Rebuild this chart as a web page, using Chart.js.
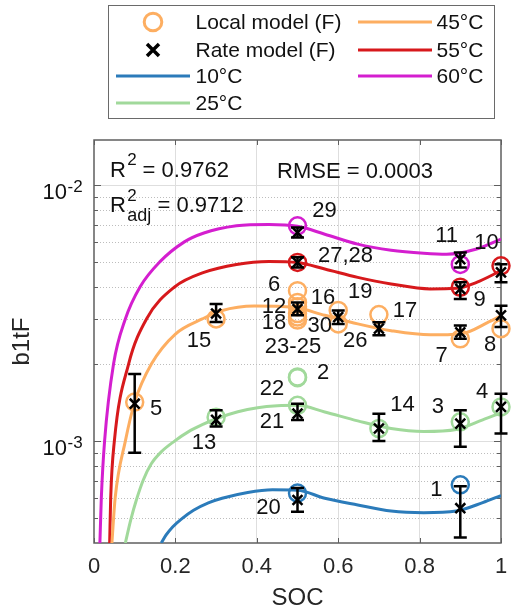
<!DOCTYPE html>
<html>
<head>
<meta charset="utf-8">
<script src="https://cdn.jsdelivr.net/npm/chart.js@4.4.1/dist/chart.umd.min.js"></script>
<style>
  html, body { margin: 0; padding: 0; background: #fff; }
  canvas { display: block; }
</style>
</head>
<body>
<canvas id="chart-b1tf" width="512" height="616"></canvas>
<script>

// DATA

const xTicks = [0, 0.2, 0.4, 0.6, 0.8, 1];
const xTickLabels = [`0`, `0.2`, `0.4`, `0.6`, `0.8`, `1`];
const yMajorTicks = [1e-3, 1e-2];
const yTickExponents = [`-3`, `-2`];
const yMinorTicks = [5e-4, 6e-4, 7e-4, 8e-4, 9e-4, 2e-3, 3e-3, 4e-3, 5e-3, 6e-3, 7e-3, 8e-3, 9e-3];

const temps = [`10°C`, `25°C`, `45°C`, `55°C`, `60°C`];

// fitted model curves
const fit10Soc = [0.1654, 0.1768, 0.1937, 0.2138, 0.2446, 0.2809, 0.3148, 0.3777, 0.4383, 0.5, 0.567, 0.648, 0.73, 0.81, 0.89, 0.955, 1.0];
const fit10Val = [4.0e-4, 4.29e-4, 4.63e-4, 4.95e-4, 5.37e-4, 5.74e-4, 5.98e-4, 6.30e-4, 6.45e-4, 6.43e-4, 5.98e-4, 5.63e-4, 5.33e-4, 5.25e-4, 5.33e-4, 5.75e-4, 6.13e-4];

const fit25Soc = [0.077, 0.0903, 0.1041, 0.1211, 0.1404, 0.1646, 0.1978, 0.2324, 0.2688, 0.3002, 0.3535, 0.402, 0.4504, 0.5, 0.567, 0.648, 0.73, 0.81, 0.89, 0.955, 1.0];
const fit25Val = [4.0e-4, 4.93e-4, 5.89e-4, 7.05e-4, 8.14e-4, 9.06e-4, 1.0e-3, 1.089e-3, 1.164e-3, 1.223e-3, 1.302e-3, 1.35e-3, 1.374e-3, 1.38e-3, 1.3e-3, 1.2e-3, 1.12e-3, 1.09e-3, 1.11e-3, 1.21e-3, 1.29e-3];

const fit45Soc = [0.044, 0.052, 0.077, 0.1, 0.141, 0.2, 0.266, 0.313, 0.394, 0.49, 0.567, 0.648, 0.73, 0.826, 0.9, 0.97, 1.0];
const fit45Val = [4.0e-4, 6.0e-4, 1.0e-3, 1.42e-3, 2.0e-3, 2.62e-3, 3.0e-3, 3.23e-3, 3.37e-3, 3.33e-3, 3.1e-3, 2.87e-3, 2.7e-3, 2.6e-3, 2.62e-3, 2.92e-3, 3.09e-3];

const fit55Soc = [0.0385, 0.041, 0.05, 0.085, 0.129, 0.198, 0.27, 0.35, 0.43, 0.5, 0.567, 0.648, 0.73, 0.826, 0.89, 0.94, 1.0];
const fit55Val = [4.0e-4, 6.0e-4, 1.0e-3, 2.0e-3, 3.0e-3, 4.0e-3, 4.56e-3, 4.9e-3, 5.03e-3, 4.98e-3, 4.7e-3, 4.36e-3, 4.11e-3, 3.93e-3, 3.95e-3, 4.17e-3, 4.63e-3];

const fit60Soc = [0.0145, 0.018, 0.026, 0.048, 0.077, 0.113, 0.161, 0.222, 0.27, 0.35, 0.43, 0.5, 0.567, 0.648, 0.73, 0.81, 0.866, 0.94, 1.0];
const fit60Val = [4.0e-4, 6.0e-4, 1.0e-3, 2.0e-3, 3.0e-3, 4.0e-3, 5.0e-3, 6.0e-3, 6.5e-3, 6.93e-3, 7.02e-3, 6.9e-3, 6.43e-3, 5.88e-3, 5.57e-3, 5.42e-3, 5.37e-3, 5.63e-3, 6.15e-3];

// local model estimates (circles) with their test numbers
const local10Soc = [0.5, 0.9];
const local10Val = [6.27e-4, 6.75e-4];
const local10Id = [`20`, `1`];

const local25Soc = [0.3, 0.5, 0.5, 0.5, 0.7, 0.9, 1.0];
const local25Val = [1.24e-3, 1.78e-3, 1.77e-3, 1.38e-3, 1.12e-3, 1.19e-3, 1.36e-3];
const local25Id = [`13`, `2`, `22`, `21`, `14`, `3`, `4`];

const local45Soc = [0.1, 0.3, 0.5, 0.5, 0.5, 0.5, 0.5, 0.5, 0.6, 0.6, 0.7, 0.9, 1.0];
const local45Val = [1.42e-3, 3.0e-3, 3.87e-3, 3.48e-3, 3.35e-3, 3.15e-3, 3.05e-3, 2.97e-3, 3.24e-3, 2.87e-3, 3.12e-3, 2.51e-3, 2.75e-3];
const local45Id = [`5`, `15`, `6`, `12`, `16`, `18`, `30`, `23-25`, `19`, `26`, `17`, `7`, `8`];

const local55Soc = [0.5, 0.9, 1.0];
const local55Val = [4.99e-3, 3.99e-3, 4.84e-3];
const local55Id = [`27,28`, `9`, `10`];

const local60Soc = [0.5, 0.9];
const local60Val = [6.93e-3, 4.9e-3];
const local60Id = [`29`, `11`];

// rate model estimates (crosses) with confidence bounds
const rateSoc = [0.5, 0.9, 0.3, 0.5, 0.7, 0.9, 1.0, 0.1, 0.3, 0.5, 0.6, 0.7, 0.9, 1.0, 0.5, 0.9, 1.0, 0.5, 0.9];
const rateVal = [5.89e-4, 5.47e-4, 1.21e-3, 1.28e-3, 1.12e-3, 1.17e-3, 1.36e-3, 1.40e-3, 3.15e-3, 3.28e-3, 3.05e-3, 2.75e-3, 2.66e-3, 3.1e-3, 4.99e-3, 3.93e-3, 4.56e-3, 6.52e-3, 5.14e-3];
const rateLow = [5.3e-4, 4.2e-4, 1.14e-3, 1.21e-3, 1.0e-3, 9.5e-4, 1.07e-3, 9.0e-4, 2.92e-3, 3.10e-3, 2.87e-3, 2.59e-3, 2.51e-3, 2.79e-3, 4.77e-3, 3.59e-3, 4.17e-3, 6.24e-3, 4.77e-3];
const rateHigh = [6.56e-4, 6.66e-4, 1.32e-3, 1.40e-3, 1.28e-3, 1.32e-3, 1.53e-3, 1.83e-3, 3.43e-3, 3.48e-3, 3.24e-3, 2.91e-3, 2.83e-3, 3.38e-3, 5.22e-3, 4.17e-3, 4.91e-3, 6.83e-3, 5.45e-3];

const statR2 = `0.9762`;
const statR2adj = `0.9712`;
const statRmse = `0.0003`;


// STYLE

const family = `"Liberation Sans", Arial, sans-serif`;
const tempColors = [`#2b7bba`, `#a1d99b`, `#fdae61`, `#d7191c`, `#d41ecf`];
const axisColor = `#5f5f5f`;
const textColor = `#111`;

// label centre offsets from their circle, in pixels
const labelOffset = {
  '1': [-24, 5], '20': [-29, 15], '13': [-12, 26], '2': [25.5, -4], '22': [-25.5, 11],
  '21': [-25.5, 17], '14': [23.6, -23.4], '3': [-22.4, -15], '4': [-19, -15], '5': [21.4, 7],
  '15': [-17, 21.6], '6': [-23.5, -6], '12': [-23.5, 4], '16': [25.5, -8.6], '18': [-23.5, 9.8],
  '30': [22.2, 8.5], '23-25': [-4.5, 27], '19': [22, -18], '26': [17, 16.7], '17': [26, -4],
  '7': [-18.7, 16.7], '8': [-11, 16], '27,28': [48, -6], '9': [19.3, 12.5], '10': [-14.5, -23],
  '29': [27, -15], '11': [-13.7, -28.6],
};

const toPoints = (xs, ys) => xs.map((x, i) => ({x, y: ys[i]}));

const fitSoc = [fit10Soc, fit25Soc, fit45Soc, fit55Soc, fit60Soc];
const fitVal = [fit10Val, fit25Val, fit45Val, fit55Val, fit60Val];
const localSoc = [local10Soc, local25Soc, local45Soc, local55Soc, local60Soc];
const localVal = [local10Val, local25Val, local45Val, local55Val, local60Val];
const localId = [local10Id, local25Id, local45Id, local55Id, local60Id];

const datasets = [];

// circles under everything
temps.forEach((t, k) => {
  datasets.push({
    label: `Local ${t}`,
    data: toPoints(localSoc[k], localVal[k]),
    showLine: false,
    pointStyle: `circle`,
    pointRadius: 8.5,
    pointBorderWidth: 2.5,
    pointBorderColor: tempColors[k],
    pointBackgroundColor: `rgba(0,0,0,0)`,
    clip: false,
    order: 3,
  });
});

// model curves
temps.forEach((t, k) => {
  datasets.push({
    label: t,
    data: toPoints(fitSoc[k], fitVal[k]),
    borderColor: tempColors[k],
    borderWidth: 3,
    pointRadius: 0,
    cubicInterpolationMode: `monotone`,
    order: 2,
  });
});

// rate model crosses
datasets.push({
  label: `Rate model (F)`,
  data: toPoints(rateSoc, rateVal),
  showLine: false,
  pointStyle: `crossRot`,
  pointRadius: 7,
  pointBorderWidth: 2.5,
  pointBorderColor: `#000`,
  clip: false,
  order: 1,
});


// helpers for drawing

function setFont(c, size) {
  c.font = `${size}px ${family}`;
}

function drawLegend(c) {
  c.save();
  c.fillStyle = `#fff`;
  c.fillRect(108, 5, 386, 114);
  c.strokeStyle = `#6a6a6a`;
  c.lineWidth = 1;
  c.strokeRect(108.5, 5.5, 386, 113);

  setFont(c, 21);
  c.fillStyle = textColor;
  c.textBaseline = `middle`;
  c.textAlign = `left`;

  // circle entry
  c.beginPath();
  c.arc(153, 22, 8.8, 0, Math.PI * 2);
  c.strokeStyle = tempColors[2];
  c.lineWidth = 3;
  c.stroke();
  c.fillText(`Local model (F)`, 195.5, 23);

  // cross entry
  c.beginPath();
  c.moveTo(147, 44); c.lineTo(159, 56);
  c.moveTo(159, 44); c.lineTo(147, 56);
  c.strokeStyle = `#000`;
  c.lineWidth = 3.5;
  c.stroke();
  c.fillText(`Rate model (F)`, 195.5, 51);

  const rows = [[116, 76, 195.5], [116, 103, 195.5], [358, 22, 436.5], [358, 50, 436.5], [358, 76, 436.5]];
  temps.forEach((t, k) => {
    const [x0, y, tx] = rows[k];
    c.beginPath();
    c.moveTo(x0, y);
    c.lineTo(x0 + 74, y);
    c.strokeStyle = tempColors[k];
    c.lineWidth = 3;
    c.stroke();
    c.fillText(t, tx, y + 1);
  });
  c.restore();
}

const figureExtras = {
  id: `figureExtras`,
  beforeDatasetsDraw(chart) {
    const c = chart.ctx;
    const {left, right, top, bottom} = chart.chartArea;
    const ys = chart.scales.y;
    const xs = chart.scales.x;
    c.save();

    // dotted minor grid
    c.strokeStyle = `#bdbdbd`;
    c.lineWidth = 1;
    c.setLineDash([1, 2]);
    yMinorTicks.forEach(v => {
      const y = Math.round(ys.getPixelForValue(v)) + 0.5;
      c.beginPath();
      c.moveTo(left, y);
      c.lineTo(right, y);
      c.stroke();
    });
    c.setLineDash([]);

    // axes box and inward ticks
    c.strokeStyle = axisColor;
    c.lineWidth = 1.5;
    c.strokeRect(left, top, right - left, bottom - top);
    c.lineWidth = 1;
    c.beginPath();
    yMinorTicks.forEach(v => {
      const y = Math.round(ys.getPixelForValue(v)) + 0.5;
      c.moveTo(left, y); c.lineTo(left + 4, y);
      c.moveTo(right, y); c.lineTo(right - 4, y);
    });
    yMajorTicks.forEach(v => {
      const y = Math.round(ys.getPixelForValue(v)) + 0.5;
      c.moveTo(left, y); c.lineTo(left + 7, y);
      c.moveTo(right, y); c.lineTo(right - 7, y);
    });
    xTicks.forEach(v => {
      const x = Math.round(xs.getPixelForValue(v)) + 0.5;
      c.moveTo(x, bottom); c.lineTo(x, bottom - 5);
      c.moveTo(x, top); c.lineTo(x, top + 5);
    });
    c.stroke();
    c.restore();
  },
  afterDatasetsDraw(chart) {
    const c = chart.ctx;
    const ys = chart.scales.y;
    const xs = chart.scales.x;
    c.save();

    // error bars of the rate model
    c.strokeStyle = `#000`;
    c.lineWidth = 2.5;
    rateSoc.forEach((s, i) => {
      const x = xs.getPixelForValue(s);
      const yl = ys.getPixelForValue(rateLow[i]);
      const yh = ys.getPixelForValue(rateHigh[i]);
      c.beginPath();
      c.moveTo(x, yl); c.lineTo(x, yh);
      c.moveTo(x - 6.5, yl); c.lineTo(x + 6.5, yl);
      c.moveTo(x - 6.5, yh); c.lineTo(x + 6.5, yh);
      c.stroke();
    });

    // test numbers next to the circles
    setFont(c, 22);
    c.fillStyle = textColor;
    c.textAlign = `center`;
    c.textBaseline = `middle`;
    localId.forEach((ids, k) => {
      ids.forEach((id, i) => {
        const off = labelOffset[id] || [0, 0];
        const x = xs.getPixelForValue(localSoc[k][i]) + off[0];
        const y = ys.getPixelForValue(localVal[k][i]) + off[1];
        c.fillText(id, x, y);
      });
    });

    // y tick labels as 10^n
    c.textBaseline = `alphabetic`;
    yMajorTicks.forEach((v, i) => {
      const y = ys.getPixelForValue(v);
      setFont(c, 17);
      c.textAlign = `left`;
      c.fillText(yTickExponents[i], 67.5, y + 6.5);
      setFont(c, 22);
      c.textAlign = `right`;
      c.fillText(`10`, 67, y + 13.5);
    });

    // fit statistics
    c.textAlign = `left`;
    setFont(c, 22);
    c.fillText(`R`, 110, 176.7);
    setFont(c, 17);
    c.fillText(`2`, 127.3, 165.2);
    setFont(c, 22);
    c.fillText(` = ${statR2}`, 136.5, 176.7);

    c.fillText(`R`, 110, 211.7);
    setFont(c, 17);
    c.fillText(`2`, 127.3, 200.5);
    setFont(c, 18);
    c.fillText(`adj`, 127.3, 221);
    const adjW = c.measureText(`adj`).width;
    setFont(c, 22);
    c.fillText(` = ${statR2adj}`, 127.3 + adjW, 211.7);

    c.fillText(`RMSE = ${statRmse}`, 277, 178.3);
    c.restore();

    drawLegend(c);
  },
};

const ctxChart = document.getElementById(`chart-b1tf`);

const chartB1tF = new Chart(ctxChart, {
  type: `line`,
  data: {datasets},
  options: {
    responsive: false,
    animation: false,
    events: [],
    layout: {
      padding: {top: 140, right: 5, bottom: 0, left: 0},
    },
    plugins: {
      legend: {display: false},
      tooltip: {enabled: false},
    },
    scales: {
      x: {
        type: `linear`,
        min: 0,
        max: 1,
        afterBuildTicks: (scale) => {
          scale.ticks = xTicks.map(v => ({value: v}));
        },
        afterFit: (scale) => {
          scale.height = 73;
          scale.paddingLeft = 0;
          scale.paddingRight = 0;
        },
        ticks: {
          autoSkip: false,
          maxRotation: 0,
          padding: 11,
          color: `#262626`,
          font: {family, size: 22},
          callback: (v, i) => xTickLabels[i],
        },
        grid: {
          drawTicks: false,
          color: (ctx) => (ctx.tick && ctx.tick.value > 0 && ctx.tick.value < 1 ? `#dedede` : `rgba(0,0,0,0)`),
        },
        border: {display: false},
        title: {
          display: true,
          text: `SOC`,
          color: `#262626`,
          font: {family, size: 24},
          padding: {top: 0, bottom: 3},
        },
      },
      y: {
        type: `logarithmic`,
        min: 4e-4,
        max: 1.5e-2,
        afterBuildTicks: (scale) => {
          scale.ticks = yMajorTicks.map(v => ({value: v}));
        },
        afterFit: (scale) => {
          scale.width = 94;
          scale.paddingTop = 0;
          scale.paddingBottom = 0;
        },
        ticks: {display: false},
        grid: {
          drawTicks: false,
          color: `#dedede`,
        },
        border: {display: false},
        title: {
          display: true,
          text: `b1tF`,
          color: `#262626`,
          font: {family, size: 24},
          padding: {top: 7.5, bottom: 0},
        },
      },
    },
  },
  plugins: [figureExtras],
});
</script>
</body>
</html>
